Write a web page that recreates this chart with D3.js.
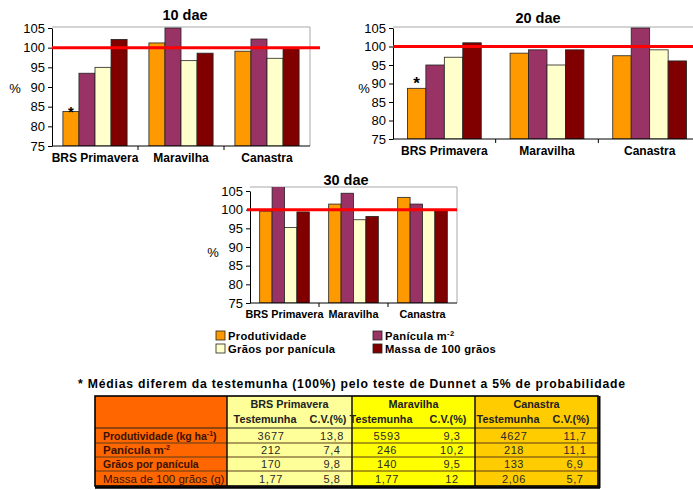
<!DOCTYPE html>
<html><head><meta charset="utf-8">
<script src="https://cdn.jsdelivr.net/npm/d3@7"></script>
<style>
body{margin:0;background:#fff}
svg{display:block}
text{font-family:"Liberation Sans",Arial,Helvetica,sans-serif}
</style>
</head><body>
<svg id="c" width="693" height="490"></svg>
<script>
// ---------- data ----------
const categories = ["BRS Primavera", "Maravilha", "Canastra"];
const seriesNames = ["Produtividade", "Panícula m", "Grãos por panícula", "Massa de 100 grãos"];
const yTicks = [75, 80, 85, 90, 95, 100, 105];

// 10 dae (% da testemunha)
const prod10  = [83.8, 101.2, 99.1];
const pan10   = [93.5, 105.0, 102.2];
const grao10  = [95.0, 96.7, 97.3];
const massa10 = [102.1, 98.6, 100.0];
// 20 dae
const prod20  = [88.7, 98.2, 97.5];
const pan20   = [95.0, 99.1, 105.0];
const grao20  = [97.1, 95.0, 99.1];
const massa20 = [101.0, 99.1, 96.1];
// 30 dae
const prod30  = [99.6, 101.5, 103.3];
const pan30   = [106.5, 104.4, 101.5];
const grao30  = [95.2, 97.3, 100.0];
const massa30 = [99.4, 98.2, 100.0];

const referenceLine = 100;
const footnote = "* Médias diferem da testemunha (100%) pelo teste de Dunnet a 5% de probabilidade";

// table
const tableRowLabels = ["Produtividade (kg ha", "Panícula m", "Grãos por panícula", "Massa de 100 grãos (g)"];
const tableRowSups   = ["-1", "-2", "", ""];
const tableSubHeads  = ["Testemunha", "C.V.(%)"];
const brsTest = ["3677", "212", "170", "1,77"];
const brsCV   = ["13,8", "7,4", "9,8", "5,8"];
const marTest = ["5593", "246", "140", "1,77"];
const marCV   = ["9,3", "10,2", "9,5", "12"];
const canTest = ["4627", "218", "133", "2,06"];
const canCV   = ["11,7", "11,1", "6,9", "5,7"];

// ---------- styles ----------
const colors = ["#FF9900", "#993366", "#FFFFCC", "#800000"];
const svg = d3.select("#c");

function chart(cfg, idx) {
  const y = d3.scaleLinear().domain([75, 105]).range([cfg.yBot, cfg.yTop]);
  const x0 = d3.scaleBand().domain(categories).range([cfg.left, cfg.right]);
  const x1 = d3.scaleBand().domain(seriesNames).range([0, x0.bandwidth()]).paddingOuter(cfg.pad);
  const g = svg.append("g");

  g.append("path")
    .attr("d", `M${cfg.left},${cfg.plotTop}H${cfg.right}V${cfg.yBot}`)
    .attr("fill", "none").attr("stroke", "#a8a8a8").attr("stroke-width", 1);

  const clipId = "clip" + idx;
  svg.append("clipPath").attr("id", clipId).append("rect")
    .attr("x", cfg.left).attr("y", cfg.plotTop)
    .attr("width", cfg.right - cfg.left).attr("height", cfg.yBot - cfg.plotTop);

  const bars = g.append("g").attr("clip-path", `url(#${clipId})`);
  categories.forEach((c, i) => {
    cfg.values.forEach((arr, j) => {
      const v = arr[i];
      bars.append("rect")
        .attr("x", x0(c) + x1(seriesNames[j]))
        .attr("y", y(v))
        .attr("width", x1.bandwidth())
        .attr("height", y(75) - y(v))
        .attr("fill", colors[j])
        .attr("stroke", "#222").attr("stroke-width", 0.8);
    });
  });

  const ya = d3.axisLeft(y).tickValues(yTicks).tickSize(4).tickSizeOuter(0).tickPadding(3);
  const yg = g.append("g").attr("transform", `translate(${cfg.left},0)`).call(ya);
  yg.select(".domain").attr("stroke", "#000");
  yg.selectAll(".tick line").attr("stroke", "#000");
  yg.selectAll("text").attr("font-size", 13).attr("fill", "#000")
    .attr("font-family", '"Liberation Sans",Arial,sans-serif');

  g.append("line").attr("x1", cfg.left).attr("x2", cfg.right)
    .attr("y1", cfg.yBot).attr("y2", cfg.yBot).attr("stroke", "#000");
  categories.slice(1).forEach(c => {
    g.append("line").attr("x1", x0(c)).attr("x2", x0(c))
      .attr("y1", cfg.yBot).attr("y2", cfg.yBot + 4).attr("stroke", "#000");
  });
  categories.forEach(c => {
    g.append("text").attr("x", x0(c) + x0.bandwidth() / 2).attr("y", cfg.catY)
      .attr("text-anchor", "middle").attr("font-size", cfg.catFont).attr("font-weight", "bold")
      .text(c);
  });

  g.append("line").attr("x1", cfg.lineX1).attr("x2", cfg.lineX2)
    .attr("y1", y(referenceLine)).attr("y2", y(referenceLine))
    .attr("stroke", "#FF0000").attr("stroke-width", 3);

  g.append("text").attr("x", cfg.titleX).attr("y", cfg.titleY).attr("text-anchor", "middle")
    .attr("font-size", 14.5).attr("font-weight", "bold").text(cfg.title);
  g.append("text").attr("x", cfg.pctX).attr("y", cfg.pctY).attr("text-anchor", "middle")
    .attr("font-size", 13).text("%");

  if (cfg.star) {
    const c = categories[cfg.star.cat], s = seriesNames[cfg.star.series];
    g.append("text")
      .attr("x", x0(c) + x1(s) + x1.bandwidth() / 2)
      .attr("y", y(cfg.values[cfg.star.series][cfg.star.cat]) + cfg.star.dy)
      .attr("text-anchor", "middle").attr("font-size", cfg.star.size).attr("font-weight", "bold")
      .text("*");
  }
}

chart({title: "10 dae", values: [prod10, pan10, grao10, massa10],
  left: 52, right: 310, yTop: 28, yBot: 146, plotTop: 27, pad: 0.68,
  titleX: 185, titleY: 20, pctX: 15, pctY: 93, catY: 162, catFont: 12,
  lineX1: 52, lineX2: 320, star: {cat: 0, series: 0, dy: 6, size: 15}}, 1);

chart({title: "20 dae", values: [prod20, pan20, grao20, massa20],
  left: 393, right: 701, yTop: 28, yBot: 139, plotTop: 27, pad: 0.78,
  titleX: 538, titleY: 23, pctX: 364, pctY: 93, catY: 155, catFont: 12,
  lineX1: 393, lineX2: 693, star: {cat: 0, series: 0, dy: 1, size: 17}}, 2);

chart({title: "30 dae", values: [prod30, pan30, grao30, massa30],
  left: 250, right: 457, yTop: 191, yBot: 303, plotTop: 187, pad: 0.78,
  titleX: 346, titleY: 185, pctX: 213, pctY: 257, catY: 318, catFont: 10.8,
  lineX1: 247, lineX2: 457}, 3);

// ---------- legend ----------
const legPos = [[216, 331], [373, 331], [216, 344], [373, 344]];
const lg = svg.append("g");
seriesNames.forEach((s, i) => {
  const [lx, ly] = legPos[i];
  lg.append("rect").attr("x", lx).attr("y", ly).attr("width", 9).attr("height", 9)
    .attr("fill", colors[i]).attr("stroke", "#222").attr("stroke-width", 0.8);
  const t = lg.append("text").attr("x", lx + 12).attr("y", ly + 9)
    .attr("font-size", 11.2).attr("font-weight", "bold").attr("letter-spacing", 0.3).text(s);
  if (i === 1) t.append("tspan").attr("dy", -4).attr("font-size", 7.5).text("-2");
});

// ---------- footnote ----------
svg.append("text").attr("x", 78).attr("y", 388).attr("font-size", 12.2).attr("font-weight", "bold")
  .attr("textLength", 547).attr("lengthAdjust", "spacing")
  .text(footnote);

// ---------- table ----------
const tb = svg.append("g");
const colX = [95, 227, 352, 475, 598];
const colFill = ["#FF6600", "#FFFF99", "#FFFF00", "#FFCC00"];
const rowY = [396, 428, 443, 457, 471, 486];
const groupData = [
  {name: categories[0], test: brsTest, cv: brsCV, tc: 271, cc: 332},
  {name: categories[1], test: marTest, cv: marCV, tc: 387, cc: 452},
  {name: categories[2], test: canTest, cv: canCV, tc: 514, cc: 575}
];
colFill.forEach((f, i) => {
  tb.append("rect").attr("x", colX[i]).attr("y", rowY[0])
    .attr("width", colX[i + 1] - colX[i]).attr("height", rowY[5] - rowY[0]).attr("fill", f);
});
rowY.slice(1, 5).forEach((ry, k) => {
  tb.append("line").attr("x1", colX[0]).attr("x2", colX[4]).attr("y1", ry).attr("y2", ry)
    .attr("stroke", k === 0 ? "#222" : "#5a3a1a").attr("stroke-width", k === 0 ? 1.2 : 1);
});
colX.slice(1, 4).forEach(cx => {
  tb.append("line").attr("x1", cx).attr("x2", cx).attr("y1", rowY[0]).attr("y2", rowY[5])
    .attr("stroke", "#111").attr("stroke-width", 1.5);
});
tb.append("rect").attr("x", colX[0]).attr("y", rowY[0])
  .attr("width", colX[4] - colX[0]).attr("height", rowY[5] - rowY[0])
  .attr("fill", "none").attr("stroke", "#000").attr("stroke-width", 1.6);
tb.append("line").attr("x1", colX[0]).attr("x2", colX[4] + 2).attr("y1", rowY[5] + 1.5).attr("y2", rowY[5] + 1.5)
  .attr("stroke", "#000").attr("stroke-width", 2.5);
tb.append("line").attr("x1", colX[4] + 1.5).attr("x2", colX[4] + 1.5).attr("y1", rowY[0]).attr("y2", rowY[5] + 2)
  .attr("stroke", "#000").attr("stroke-width", 2);

groupData.forEach((gd, i) => {
  tb.append("text").attr("x", (colX[i + 1] + colX[i + 2]) / 2).attr("y", 408)
    .attr("text-anchor", "middle").attr("font-size", 10.8).attr("font-weight", "bold")
    .attr("fill", "#222").text(gd.name);
  tb.append("text").attr("x", gd.tc - 6).attr("y", 423)
    .attr("text-anchor", "middle").attr("font-size", 10.8).attr("font-weight", "bold")
    .attr("fill", "#222").text(tableSubHeads[0]);
  tb.append("text").attr("x", gd.cc - 4).attr("y", 423)
    .attr("text-anchor", "middle").attr("font-size", 10.8).attr("font-weight", "bold")
    .attr("fill", "#222").text(tableSubHeads[1]);
  gd.test.forEach((v, r) => {
    const by = rowY[r + 2] - 3.5;
    tb.append("text").attr("x", gd.tc).attr("y", by).attr("text-anchor", "middle")
      .attr("font-size", 11).attr("letter-spacing", 0.6).attr("fill", "#2a2a2a").text(v);
    tb.append("text").attr("x", gd.cc).attr("y", by).attr("text-anchor", "middle")
      .attr("font-size", 11).attr("letter-spacing", 0.6).attr("fill", "#2a2a2a").text(gd.cv[r]);
  });
});
const labelStyle = [[10.5, "bold"], [11.5, "bold"], [10.5, "bold"], [11.5, "normal"]];
tableRowLabels.forEach((lab, r) => {
  const t = tb.append("text").attr("x", 103).attr("y", rowY[r + 2] - 3.5)
    .attr("font-size", labelStyle[r][0]).attr("font-weight", labelStyle[r][1])
    .attr("fill", "#3a1200").text(lab);
  if (tableRowSups[r]) {
    t.append("tspan").attr("dy", -4).attr("font-size", 7).text(tableRowSups[r]);
    if (r === 0) t.append("tspan").attr("dy", 4).text(")");
  }
});
</script>
</body></html>
